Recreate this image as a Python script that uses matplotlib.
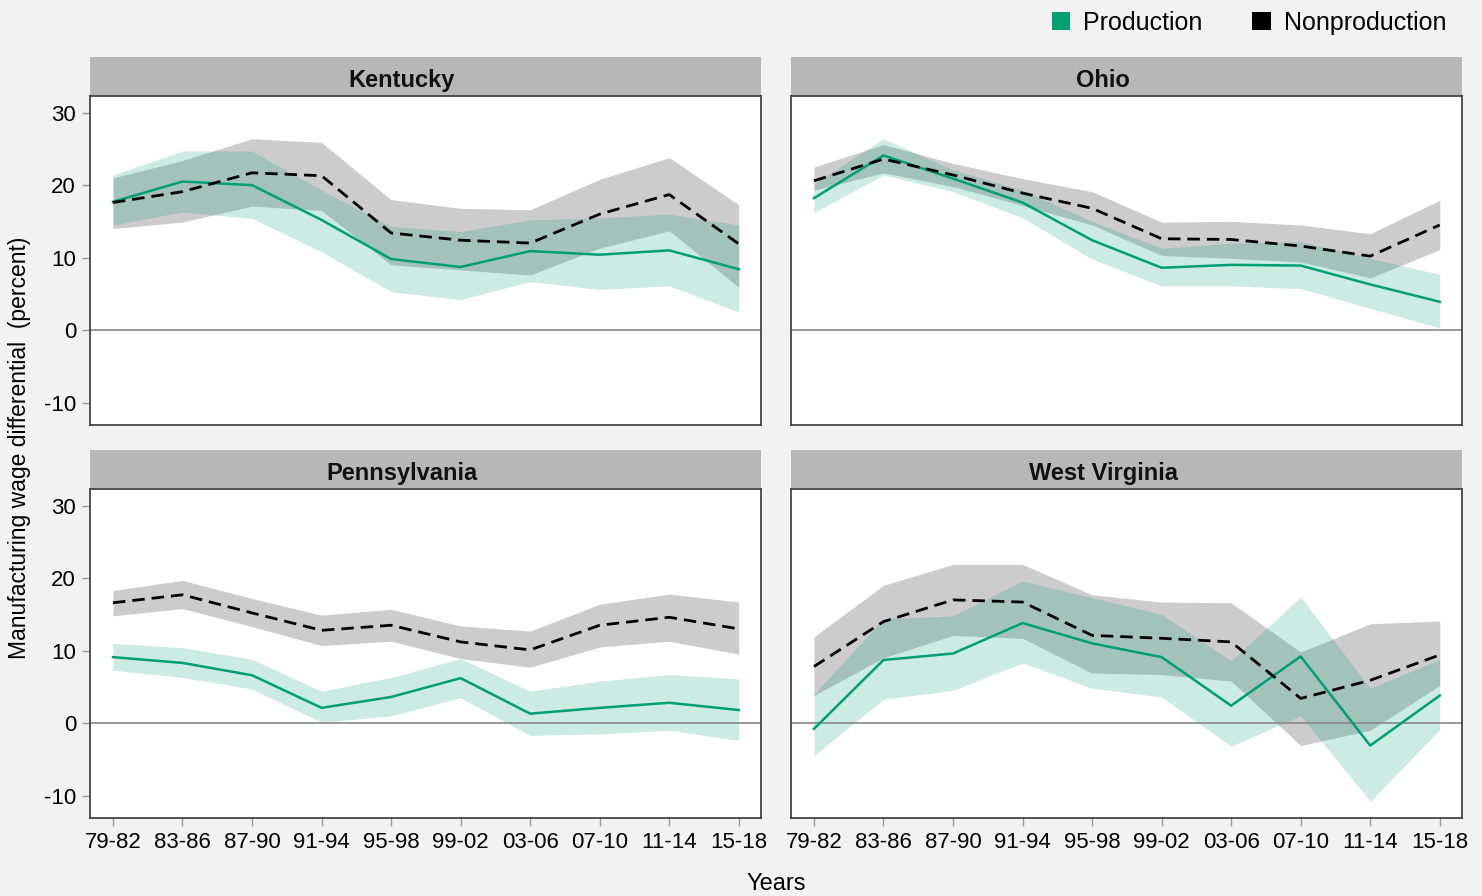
import matplotlib.pyplot as plt
from matplotlib.patches import Rectangle, Patch

years = ["79-82", "83-86", "87-90", "91-94", "95-98", "99-02", "03-06", "07-10", "11-14", "15-18"]
states = ["Kentucky", "Ohio", "Pennsylvania", "West Virginia"]

# production / nonproduction wage differential with confidence band
ky_prod = [17.7, 20.5, 20.0, 15.2, 9.8, 8.7, 10.9, 10.4, 11.0, 8.4]
ky_prod_lo = [14.5, 16.3, 15.4, 10.8, 5.3, 4.2, 6.7, 5.6, 6.1, 2.5]
ky_prod_hi = [21.4, 24.7, 24.7, 19.3, 14.3, 13.6, 15.2, 15.5, 16.0, 14.5]
ky_non = [17.6, 19.1, 21.7, 21.3, 13.4, 12.4, 12.0, 16.0, 18.7, 11.9]
ky_non_lo = [14.0, 14.9, 17.1, 16.5, 9.0, 8.3, 7.6, 11.3, 13.7, 5.9]
ky_non_hi = [21.0, 23.4, 26.4, 25.9, 18.0, 16.8, 16.6, 20.8, 23.8, 17.3]

oh_prod = [18.2, 24.1, 20.9, 17.6, 12.4, 8.6, 9.0, 8.9, 6.3, 3.9]
oh_prod_lo = [16.2, 21.4, 19.1, 15.5, 9.8, 6.1, 6.1, 5.7, 3.0, 0.3]
oh_prod_hi = [20.2, 26.4, 22.1, 19.3, 15.0, 11.3, 12.0, 12.2, 9.9, 7.7]
oh_non = [20.6, 23.6, 21.4, 18.9, 16.8, 12.6, 12.5, 11.6, 10.2, 14.5]
oh_non_lo = [19.3, 21.7, 19.8, 17.2, 14.5, 10.3, 9.9, 9.4, 7.2, 11.1]
oh_non_hi = [22.5, 25.6, 23.0, 20.9, 19.1, 14.9, 15.0, 14.5, 13.3, 17.9]

pa_prod = [9.1, 8.3, 6.6, 2.1, 3.6, 6.2, 1.3, 2.1, 2.8, 1.8]
pa_prod_lo = [7.3, 6.3, 4.7, 0.1, 1.0, 3.5, -1.7, -1.5, -1.0, -2.4]
pa_prod_hi = [11.0, 10.4, 8.8, 4.4, 6.3, 8.9, 4.4, 5.8, 6.7, 6.1]
pa_non = [16.6, 17.7, 15.2, 12.8, 13.5, 11.2, 10.1, 13.5, 14.6, 13.0]
pa_non_lo = [14.8, 15.8, 13.3, 10.7, 11.3, 8.9, 7.7, 10.5, 11.3, 9.5]
pa_non_hi = [18.3, 19.7, 17.2, 14.9, 15.7, 13.4, 12.7, 16.4, 17.8, 16.7]

wv_prod = [-0.8, 8.7, 9.6, 13.8, 11.0, 9.1, 2.4, 9.2, -3.1, 3.8]
wv_prod_lo = [-4.5, 3.3, 4.5, 8.3, 4.8, 3.6, -3.2, 1.0, -10.8, -0.9]
wv_prod_hi = [4.0, 14.4, 14.8, 19.6, 17.3, 15.0, 8.6, 17.4, 4.8, 8.8]
wv_non = [7.8, 14.0, 17.0, 16.7, 12.1, 11.7, 11.2, 3.4, 5.9, 9.4]
wv_non_lo = [3.8, 9.0, 12.1, 11.7, 6.9, 6.7, 5.8, -3.1, -1.0, 5.2]
wv_non_hi = [11.9, 19.0, 21.9, 21.9, 17.7, 16.7, 16.6, 9.8, 13.7, 14.1]

panels = [
    (ky_prod, ky_prod_lo, ky_prod_hi, ky_non, ky_non_lo, ky_non_hi),
    (oh_prod, oh_prod_lo, oh_prod_hi, oh_non, oh_non_lo, oh_non_hi),
    (pa_prod, pa_prod_lo, pa_prod_hi, pa_non, pa_non_lo, pa_non_hi),
    (wv_prod, wv_prod_lo, wv_prod_hi, wv_non, wv_non_lo, wv_non_hi),
]

GREEN = "#009e73"
BG = "#f2f2f2"
plt.rcParams["font.family"] = ["Liberation Sans", "DejaVu Sans"]

W, H = 1482, 896
fig = plt.figure(figsize=(W / 100, H / 100), dpi=100, facecolor=BG)

lefts = [90, 791]
tops = [96, 489]
aw, ah = 671, 329
strip_h = 39

x = list(range(len(years)))
for k, state in enumerate(states):
    r, c = divmod(k, 2)
    ax = fig.add_axes([lefts[c] / W, 1 - (tops[r] + ah) / H, aw / W, ah / H])
    ax.set_facecolor("white")
    prod, plo, phi, non, nlo, nhi = panels[k]

    ax.fill_between(x, nlo, nhi, color="black", alpha=0.2, lw=0)
    ax.fill_between(x, plo, phi, color=GREEN, alpha=0.2, lw=0)
    ax.axhline(0, color="#888888", lw=1.2, zorder=1)
    ax.plot(x, prod, color=GREEN, lw=1.8, zorder=3)
    ax.plot(x, non, color="black", lw=2.0, dashes=(4.5, 2.5), zorder=4)

    ax.set_xlim(-0.33, 9.32)
    ax.set_ylim(-13.1, 32.3)
    ax.set_yticks([-10, 0, 10, 20, 30])
    ax.set_xticks(x)
    for sp in ax.spines.values():
        sp.set_color("#444444")
        sp.set_linewidth(1.3)
    ax.tick_params(length=6, width=1, color="#999999", pad=4)

    if c == 0:
        ax.set_yticklabels(["-10", "0", "10", "20", "30"], fontsize=16)
    else:
        ax.tick_params(axis="y", left=False, labelleft=False)
    if r == 1:
        ax.set_xticklabels(years, fontsize=16)
    else:
        ax.tick_params(axis="x", bottom=False, labelbottom=False)

    # facet header strip
    sh = strip_h / ah
    ax.add_patch(Rectangle((0, 1), 1, sh, transform=ax.transAxes,
                           facecolor="#b7b7b7", edgecolor="none", clip_on=False))
    ax.text(0.465, 1 + sh / 2 - 0.012, state, transform=ax.transAxes, ha="center",
            va="center", fontsize=17, fontweight="bold", color="#111111")

fig.text(776 / W, 1 - 884 / H, "Years", ha="center", va="center", fontsize=17)
fig.text(20 / W, 1 - 448 / H, "Manufacturing wage differential  (percent)",
         ha="center", va="center", rotation=90, fontsize=16.5)

handles = [Patch(facecolor=GREEN, edgecolor="none"),
           Patch(facecolor="black", edgecolor="none")]
fig.legend(handles, ["Production", "Nonproduction"], ncol=2, frameon=False,
           loc="center right", bbox_to_anchor=(1446 / W, 1 - 23 / H),
           fontsize=18, handlelength=0.75, handleheight=0.75,
           handletextpad=0.5, columnspacing=2.0, borderaxespad=0, borderpad=0)

fig.savefig("out.png", dpi=100, facecolor=BG)
